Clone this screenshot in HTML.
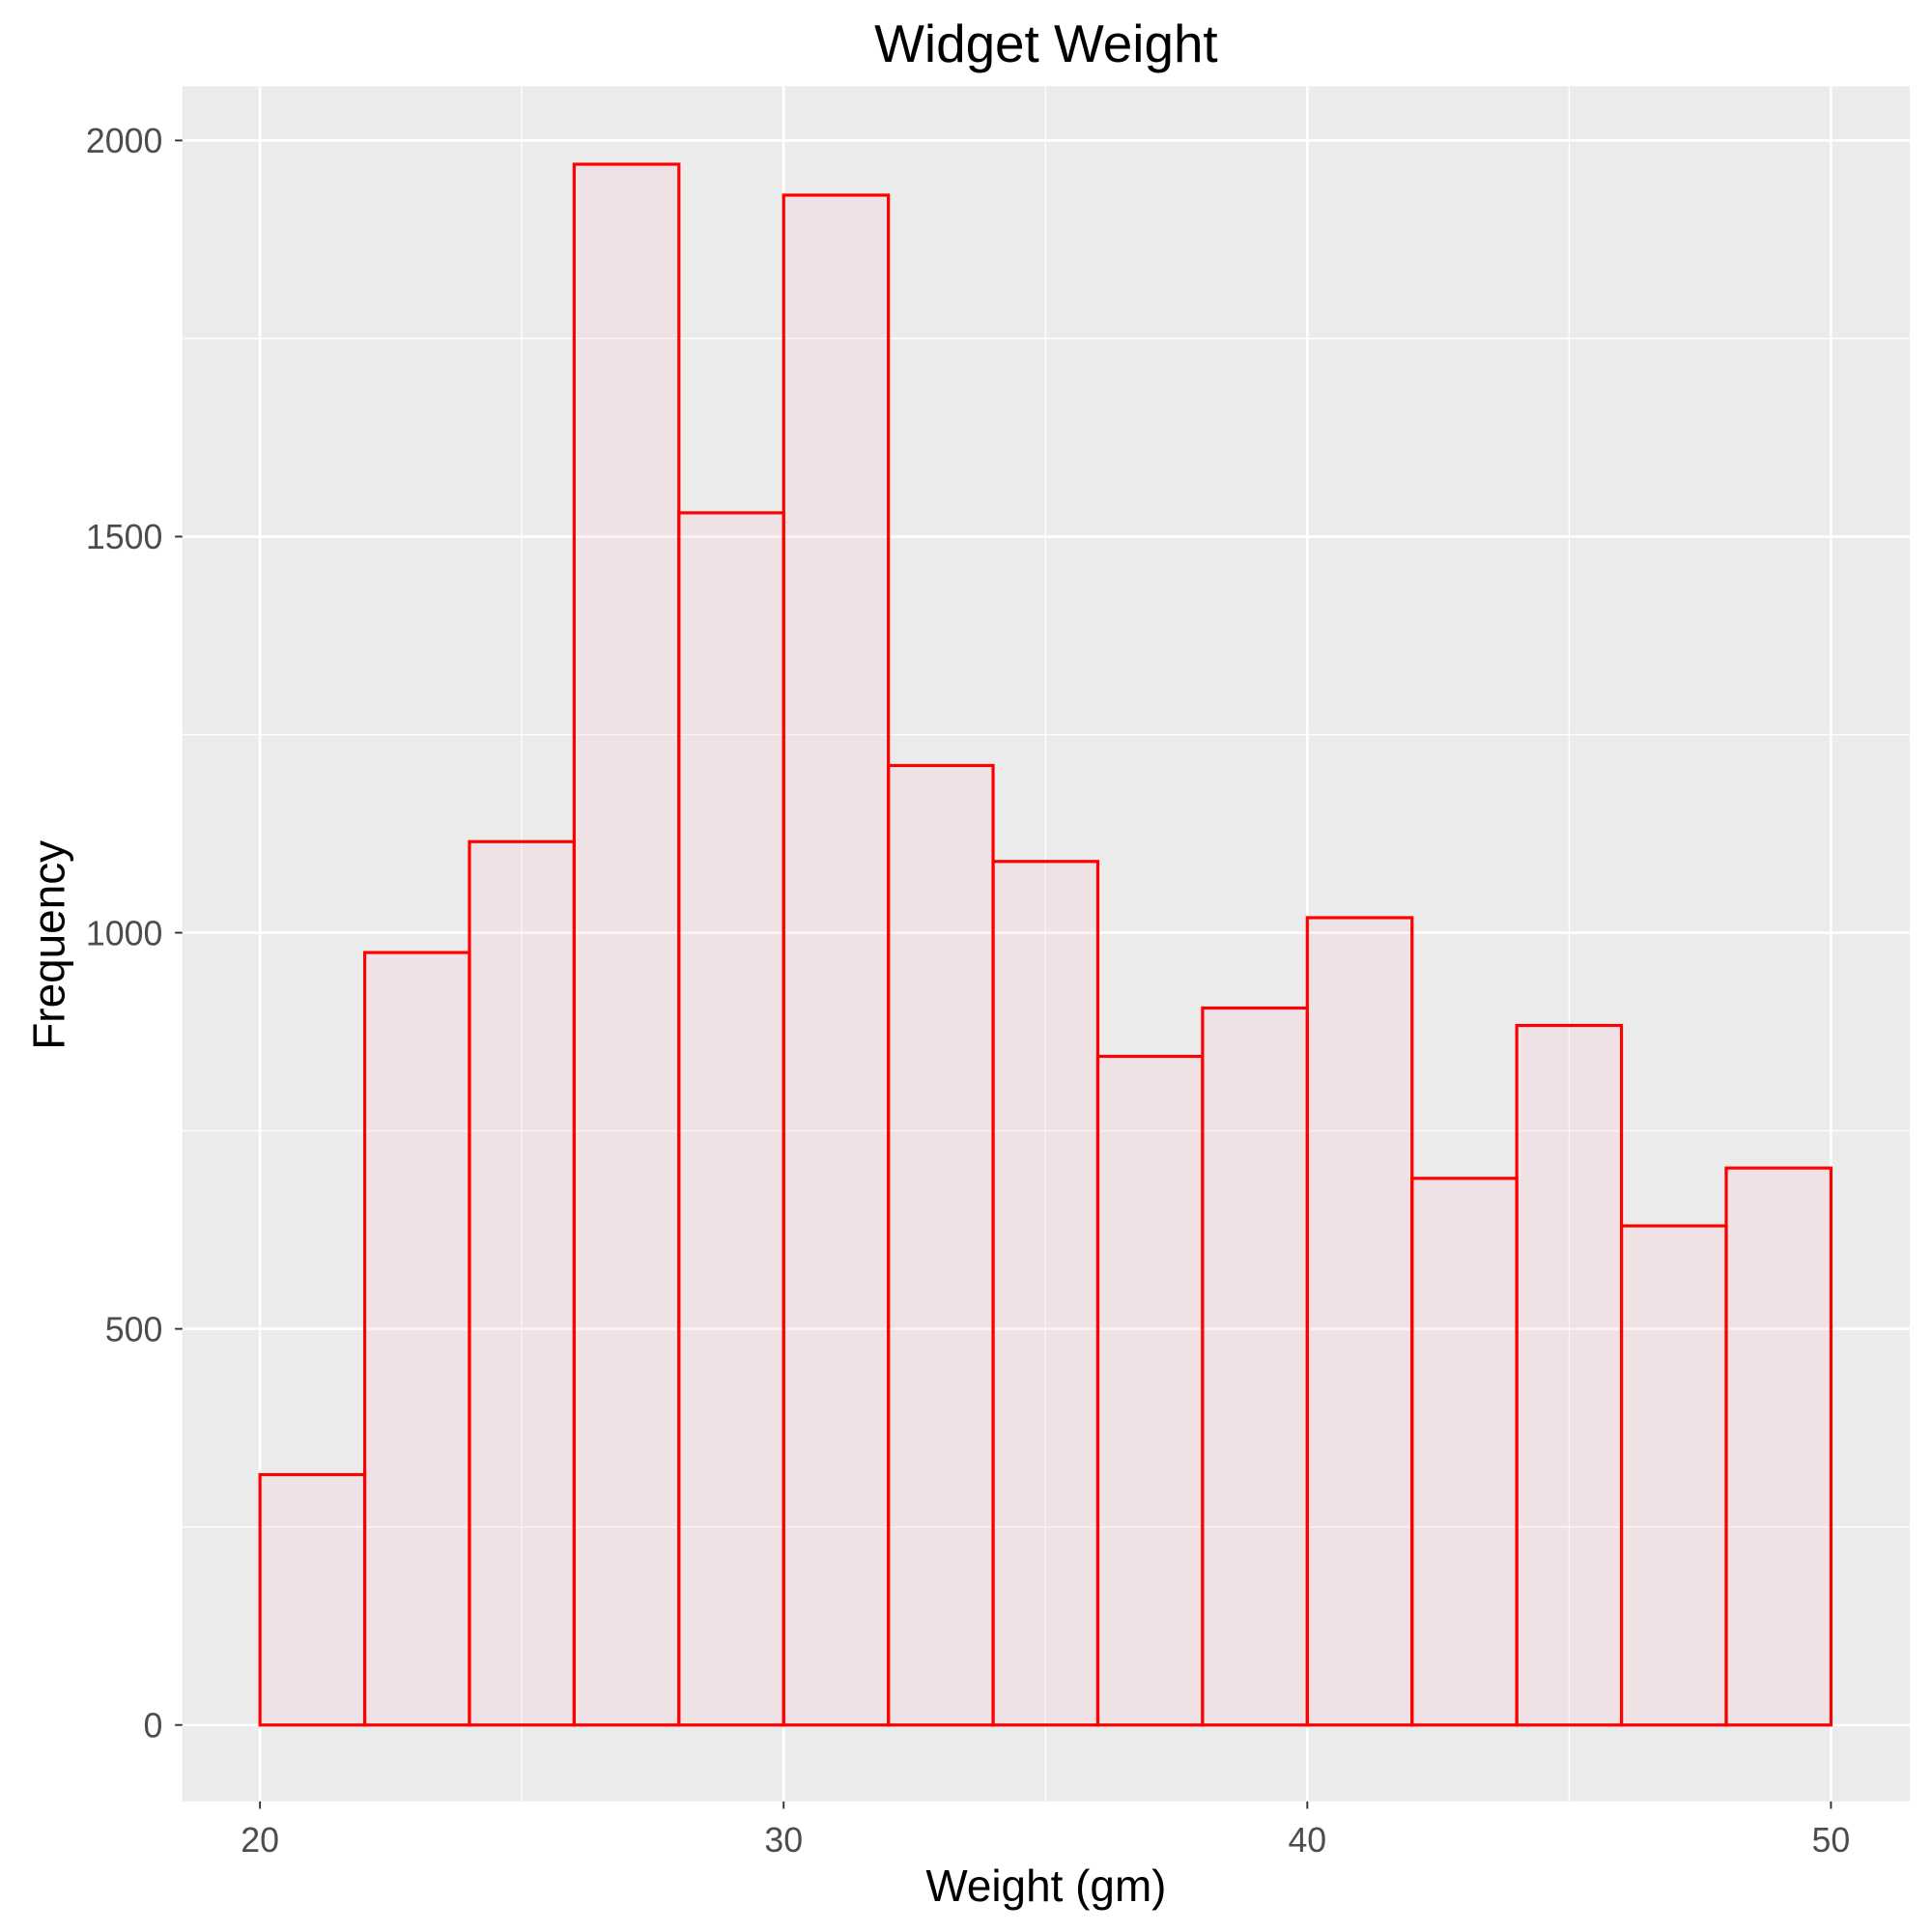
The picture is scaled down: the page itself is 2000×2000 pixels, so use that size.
<!DOCTYPE html>
<html><head><meta charset="utf-8"><style>
html,body{margin:0;padding:0;background:#fff;}
svg{display:block;font-family:"Liberation Sans",sans-serif;}
</style></head><body>
<svg id="chart" width="2000" height="2000" viewBox="0 0 1568 1568">
<rect x="0" y="0" width="1568" height="1568" fill="#fff"/>
<rect x="148" y="70" width="1402" height="1392" fill="#EBEBEB"/>
<g id="grid"></g>
<g id="bars"></g>
<g id="axes"></g>
<text x="849" y="50" text-anchor="middle" font-size="43" fill="#000">Widget Weight</text>
<text x="849" y="1543" text-anchor="middle" font-size="36" fill="#000">Weight (gm)</text>
<text transform="translate(52,767) rotate(-90)" text-anchor="middle" font-size="36" fill="#000">Frequency</text>
</svg>
<script>
const binStarts = [20,22,24,26,28,30,32,34,36,38,40,42,44,46,48];
const binWidth = 2;
const counts = [316,975,1115,1970,1530,1931,1211,1090,844,905,1019,690,883,630,703];
const xTicks = [20,30,40,50];
const xMinor = [25,35,45];
const yTicks = [0,500,1000,1500,2000];
const yMinor = [250,750,1250,1750];

const NS = "http://www.w3.org/2000/svg";
const px0 = 148, px1 = 1550, py0 = 70, py1 = 1462;
function xs(v){ return 211 + (v - 20) * (1486 - 211) / 30; }
function ys(v){ return 1400 - v * (1400 - 114) / 2000; }
function mk(tag, attrs, parent){
  const e = document.createElementNS(NS, tag);
  for (const k in attrs) e.setAttribute(k, attrs[k]);
  parent.appendChild(e);
  return e;
}
const grid = document.getElementById('grid');
const bars = document.getElementById('bars');
const axes = document.getElementById('axes');

yMinor.forEach(v => {
  const l = mk('line', {x1:px0, x2:px1, y1:ys(v), y2:ys(v), stroke:'#fff', 'stroke-width':1}, grid);
  
  
});
xMinor.forEach(v => {
  const l = mk('line', {x1:xs(v), x2:xs(v), y1:py0, y2:py1, stroke:'#fff', 'stroke-width':1}, grid);
  
  
});
yTicks.forEach(v => {
  const l = mk('line', {x1:px0, x2:px1, y1:ys(v), y2:ys(v), stroke:'#fff', 'stroke-width':2}, grid);
  
  
  const t = mk('line', {x1:px0-6, x2:px0, y1:ys(v), y2:ys(v), stroke:'#333', 'stroke-width':1.5}, axes);
  
  
  const tx = mk('text', {x:px0-16, y:ys(v)+10, 'text-anchor':'end', 'font-size':28, fill:'#4D4D4D'}, axes);
  tx.textContent = v;
  
  
});
xTicks.forEach(v => {
  const l = mk('line', {x1:xs(v), x2:xs(v), y1:py0, y2:py1, stroke:'#fff', 'stroke-width':2}, grid);
  
  
  const t = mk('line', {x1:xs(v), x2:xs(v), y1:py1, y2:py1+6, stroke:'#333', 'stroke-width':1.5}, axes);
  
  
  const tx = mk('text', {x:xs(v), y:py1+41, 'text-anchor':'middle', 'font-size':28, fill:'#4D4D4D'}, axes);
  tx.textContent = v;
  
  
});
binStarts.forEach((b, i) => {
  const x0 = xs(b), x1 = xs(b + binWidth), y = ys(counts[i]), yb = ys(0);
  const r = mk('rect', {x:x0, y:y, width:x1-x0, height:yb-y, fill:'rgba(255,192,203,0.2)', stroke:'#FF0000', 'stroke-width':2.5}, bars);
  
  
});
</script>
</body></html>
